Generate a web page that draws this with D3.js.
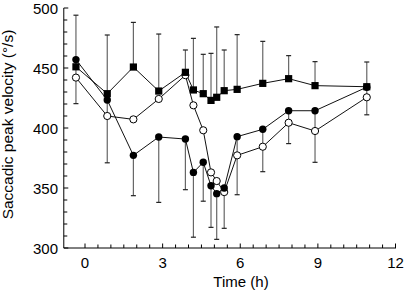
<!DOCTYPE html>
<html>
<head>
<meta charset="utf-8">
<script src="https://cdn.jsdelivr.net/npm/d3@7"></script>
<style>
  body { margin: 0; background: #fff; }
  text { font-family: "Liberation Sans", Arial, sans-serif; fill: #000; }
</style>
</head>
<body>
<div id="chart"></div>
<script>
// Data
const times = [-0.35, 0.86, 1.87, 2.85, 3.88, 4.19, 4.57, 4.87, 5.09, 5.38, 5.88, 6.87, 7.87, 8.89, 10.89];
const squareVals = [451, 428.6, 450.8, 430.8, 446.4, 431.7, 428.6, 423, 425.6, 431.1, 432.2, 437.2, 441.1, 435.3, 434.4];
const squareUpper = [494, 477.5, 488, 478.3, 465, 474.7, 461.4, 462.2, 484.2, 465, 477.8, 472.2, 460.3, 455.3, 455];
const filledVals = [457, 423.3, 377.2, 392.5, 390.8, 363, 371.4, 351.9, 345.3, 350, 392.8, 398.9, 414.4, 414.4, 434];
const filledLower = [420.3, 371, 343.6, 338, 348.6, 309, 339, 317.2, 307.2, 316.4, 344.4, 363.6, 387, 371.4, 411];
const openVals = [442, 410, 407.2, 424.2, 444, 418.9, 398.1, 363, 355.8, 346.6, 377.2, 384.4, 404.4, 397.5, 425.6];
const xTickLabels = [0, 3, 6, 9, 12];
const yTickLabels = [300, 350, 400, 450, 500];

const W = 406, H = 293;
const svg = d3.select("#chart").append("svg")
    .attr("width", W)
    .attr("height", H);

// Scales
const x = d3.scaleLinear().domain([0, 12]).range([85, 395.5]);
const y = d3.scaleLinear().domain([300, 500]).range([248, 8]);
const axisX0 = x(-0.82);

// Axes lines
svg.append("line")
    .attr("x1", axisX0).attr("x2", axisX0)
    .attr("y1", y(500)).attr("y2", y(300))
    .attr("stroke", "#000").attr("stroke-width", 1);
svg.append("line")
    .attr("x1", axisX0).attr("x2", x(12) + 0.5)
    .attr("y1", y(300)).attr("y2", y(300))
    .attr("stroke", "#000").attr("stroke-width", 1);

// Y ticks (inward), minor every 10
svg.append("g").selectAll("line")
    .data(d3.range(300, 501, 10))
    .join("line")
    .attr("x1", axisX0)
    .attr("x2", d => axisX0 + (d % 50 === 0 ? 4.5 : 3.5))
    .attr("y1", d => y(d)).attr("y2", d => y(d))
    .attr("stroke", "#000");

svg.append("g").selectAll("text")
    .data(yTickLabels)
    .join("text")
    .attr("x", 58)
    .attr("y", d => y(d) + 5.5)
    .attr("text-anchor", "end")
    .attr("font-size", 15)
    .text(d => d);

// X ticks (inward), every half hour
svg.append("g").selectAll("line")
    .data(d3.range(0, 12.01, 0.5))
    .join("line")
    .attr("x1", d => x(d)).attr("x2", d => x(d))
    .attr("y1", y(300))
    .attr("y2", d => y(300) - (d % 3 === 0 ? 4.5 : 3.5))
    .attr("stroke", "#000");

svg.append("g").selectAll("text")
    .data(xTickLabels)
    .join("text")
    .attr("x", d => x(d))
    .attr("y", 268)
    .attr("text-anchor", "middle")
    .attr("font-size", 15)
    .text(d => d);

// Axis titles
svg.append("text")
    .attr("x", 241)
    .attr("y", 287)
    .attr("text-anchor", "middle")
    .attr("font-size", 15)
    .text("Time (h)");

svg.append("text")
    .attr("transform", "translate(12.8,124.5) rotate(-90)")
    .attr("text-anchor", "middle")
    .attr("font-size", 15.5)
    .text("Saccadic peak velocity (°/s)");

// Error bars
function errorBars(vals, ends) {
    const g = svg.append("g");
    const d = times.map((t, i) => ({ t: t, v: vals[i], e: ends[i] }));
    g.selectAll("line.stem")
        .data(d)
        .join("line")
        .attr("class", "stem")
        .attr("x1", p => x(p.t)).attr("x2", p => x(p.t))
        .attr("y1", p => y(p.v)).attr("y2", p => y(p.e))
        .attr("stroke", "#666").attr("stroke-width", 1.2);
    g.selectAll("line.cap")
        .data(d)
        .join("line")
        .attr("class", "cap")
        .attr("x1", p => x(p.t) - 2.5).attr("x2", p => x(p.t) + 2.5)
        .attr("y1", p => y(p.e)).attr("y2", p => y(p.e))
        .attr("stroke", "#222").attr("stroke-width", 1.2);
}
errorBars(squareVals, squareUpper);
errorBars(filledVals, filledLower);

// Lines
const line = d3.line()
    .x(d => x(d[0]))
    .y(d => y(d[1]));

[openVals, filledVals, squareVals].forEach(vals => {
    svg.append("path")
        .datum(times.map((t, i) => [t, vals[i]]))
        .attr("fill", "none")
        .attr("stroke", "#111")
        .attr("stroke-width", 1)
        .attr("d", line);
});

// Markers
svg.append("g").selectAll("circle")
    .data(times.map((t, i) => [t, openVals[i]]))
    .join("circle")
    .attr("cx", d => x(d[0]))
    .attr("cy", d => y(d[1]))
    .attr("r", 3.6)
    .attr("fill", "#fff")
    .attr("stroke", "#000")
    .attr("stroke-width", 1);

svg.append("g").selectAll("circle")
    .data(times.map((t, i) => [t, filledVals[i]]))
    .join("circle")
    .attr("cx", d => x(d[0]))
    .attr("cy", d => y(d[1]))
    .attr("r", 3.7)
    .attr("fill", "#000");

svg.append("g").selectAll("rect")
    .data(times.map((t, i) => [t, squareVals[i]]))
    .join("rect")
    .attr("x", d => x(d[0]) - 3.6)
    .attr("y", d => y(d[1]) - 3.6)
    .attr("width", 7.2)
    .attr("height", 7.2)
    .attr("fill", "#000");
</script>
</body>
</html>
